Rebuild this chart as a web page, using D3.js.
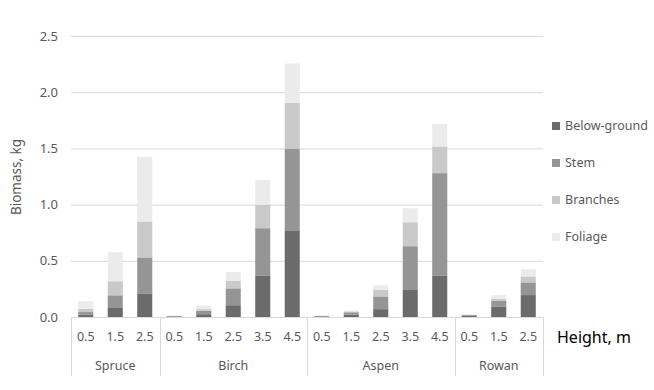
<!DOCTYPE html>
<html><head><meta charset="utf-8">
<script src="https://cdn.jsdelivr.net/npm/d3@7"></script>
<style>body{margin:0;background:#fff;}svg{display:block;font-family:"Noto Sans",sans-serif;}</style>
</head><body><svg id="c" width="654" height="390"></svg>
<script>
const species = ["Spruce","Spruce","Spruce","Birch","Birch","Birch","Birch","Birch","Aspen","Aspen","Aspen","Aspen","Aspen","Rowan","Rowan","Rowan"];
const heights = ["0.5","1.5","2.5","0.5","1.5","2.5","3.5","4.5","0.5","1.5","2.5","3.5","4.5","0.5","1.5","2.5"];
const groups = ["Spruce","Birch","Aspen","Rowan"];
const seriesNames = ["Below-ground","Stem","Branches","Foliage"];
const belowGround = [0.02,0.08,0.21, 0.005,0.025,0.105,0.37,0.765, 0.006,0.02,0.07,0.24,0.37, 0.012,0.09,0.195];
const stem        = [0.024,0.113,0.32, 0.004,0.03,0.15,0.42,0.73, 0.003,0.022,0.113,0.39,0.91, 0.006,0.053,0.113];
const branches    = [0.028,0.125,0.32, 0.001,0.015,0.065,0.21,0.41, 0.001,0.008,0.057,0.213,0.237, 0.002,0.018,0.053];
const foliage     = [0.07,0.258,0.575, 0.002,0.03,0.08,0.22,0.35, 0.001,0.007,0.041,0.125,0.2, 0.001,0.033,0.063];
const yTicks = [0,0.5,1.0,1.5,2.0,2.5];
const colors = ["#6b6b6b","#959595","#c9c9c9","#ebebeb"];

const svg = d3.select("#c");
const L = 71, R = 543, T = 36, B = 317;
const idx = d3.range(species.length);
const x = d3.scaleBand().domain(idx).range([L,R]).paddingInner(0.49).paddingOuter(0.245);
const y = d3.scaleLinear().domain([0,2.5]).range([B,T]);

// gridlines
svg.append("g").selectAll("line").data(yTicks).join("line")
  .attr("x1",L).attr("x2",R).attr("y1",d=>y(d)+0.5).attr("y2",d=>y(d)+0.5)
  .attr("stroke","#d9d9d9").attr("stroke-width",1);

// y axis labels
const yAxis = d3.axisLeft(y).tickValues(yTicks).tickFormat(d3.format(".1f")).tickSize(0).tickPadding(0);
const ya = svg.append("g").attr("transform",`translate(${L-13},0)`).call(yAxis);
ya.select(".domain").remove();
ya.selectAll("text").attr("fill","#595959").style("font-size","13px").style("font-family","Noto Sans");

svg.append("text").attr("transform","translate(21,177) rotate(-90)")
  .attr("text-anchor","middle").attr("fill","#595959").style("font-size","13.5px").text("Biomass, kg");

// stacked bars
const table = idx.map(i=>({i, "Below-ground":belowGround[i], "Stem":stem[i], "Branches":branches[i], "Foliage":foliage[i]}));
const stack = d3.stack().keys(seriesNames)(table);
svg.append("g").selectAll("g").data(stack).join("g").attr("fill",(d,k)=>colors[k])
  .selectAll("rect").data(d=>d).join("rect")
  .attr("x",d=>x(d.data.i)).attr("width",x.bandwidth())
  .attr("y",d=>y(d[1])).attr("height",d=>Math.max(0,y(d[0])-y(d[1])));

// x axis baseline
svg.append("line").attr("x1",L).attr("x2",R).attr("y1",B+0.5).attr("y2",B+0.5).attr("stroke","#d9d9d9");

// height labels
const step = x.step();
svg.append("g").selectAll("text").data(idx).join("text")
  .attr("x",i=>x(i)+x.bandwidth()/2).attr("y",337).attr("dy","0.35em")
  .attr("text-anchor","middle").attr("fill","#595959").style("font-size","12.5px")
  .text(i=>heights[i]);

// group separators & names
const bounds = [];
groups.forEach(g=>{
  const ids = idx.filter(i=>species[i]===g);
  const x0 = L + ids[0]*step, x1 = L + (ids[ids.length-1]+1)*step;
  bounds.push({g,x0,x1});
});
const sepX = [L, ...bounds.map(b=>b.x1)];
svg.append("g").selectAll("line").data(sepX).join("line")
  .attr("x1",d=>Math.round(d)+0.5).attr("x2",d=>Math.round(d)+0.5).attr("y1",B).attr("y2",376)
  .attr("stroke","#d9d9d9");
svg.append("g").selectAll("text").data(bounds).join("text")
  .attr("x",d=>(d.x0+d.x1)/2).attr("y",366).attr("dy","0.35em")
  .attr("text-anchor","middle").attr("fill","#595959").style("font-size","12.5px")
  .text(d=>d.g);

svg.append("text").attr("x",557).attr("y",337).attr("dy","0.35em")
  .attr("fill","#000").style("font-size","16px").text("Height, m");

// legend
const lg = svg.append("g").selectAll("g").data(seriesNames).join("g")
  .attr("transform",(d,k)=>`translate(552,${126+k*37})`);
lg.append("rect").attr("x",0).attr("y",-4).attr("width",8).attr("height",8).attr("fill",(d,k)=>colors[k]);
lg.append("text").attr("x",13).attr("dy","0.35em").attr("fill","#595959").style("font-size","12.5px").text(d=>d);
</script></body></html>
